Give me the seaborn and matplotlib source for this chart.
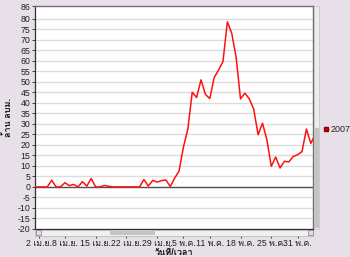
import matplotlib
matplotlib.use("Agg")
import matplotlib.pyplot as plt
from matplotlib.patches import Rectangle
from matplotlib.lines import Line2D
from matplotlib import font_manager
from matplotlib.ft2font import FT2Font
import seaborn as sns
import pandas as pd

# ---- data ----
days = list(range(0, 65))  # day offset from 1 Apr 2007
values = [0, 0, 0, 0, 3.2, 0, 0, 2.0, 0.6, 1.2,
          0, 2.5, 0.4, 4.0, 0, 0, 0.7, 0.3, 0, 0,
          0, 0, 0, 0, 0, 3.5, 0.4, 3.1, 2.3, 3.0,
          3.3, 0.2, 4.2, 7.5, 19.0, 27.5, 45.0, 42.5, 50.9, 44.0,
          42.0, 52.0, 55.6, 59.6, 78.5, 73.0, 61.5, 41.8, 44.6, 41.8,
          37.0, 24.8, 30.3, 22.4, 9.8, 14.2, 9.0, 12.2, 11.9, 14.5,
          15.3, 16.8, 27.5, 20.7, 25.0]
series_name = "2007"
tick_days = [1, 7, 14, 21, 28, 34, 40, 47, 54, 60]
tick_labels = ["2 เม.ย.", "8 เม.ย.", "15 เม.ย.", "22 เม.ย.", "29 เม.ย.",
               "5 พ.ค.", "11 พ.ค.", "18 พ.ค.", "25 พ.ค.", "31 พ.ค."]
y_ticks = [-20, -15, -10, -5, 0, 5, 10, 15, 20, 25, 30, 35, 40, 45,
           50, 55, 60, 65, 70, 75, 80, 86]
y_label = "ล้าน ลบม."
x_label = "วันที่/เวลา"

# ---- fonts: find one with Thai glyphs ----
thai = None
for f in font_manager.fontManager.ttflist:
    try:
        ft = FT2Font(f.fname)
        if 0x0E21 in ft.get_charmap():
            thai = f.name
            break
    except Exception:
        pass

sns.set_theme(style="white")
fams = ["Liberation Sans"] + ([thai] if thai else []) + ["DejaVu Sans"]
plt.rcParams["font.family"] = fams

df = pd.DataFrame({"day": days, "value": values, "series": series_name})

bg = "#e8e0e8"
fig = plt.figure(figsize=(3.5, 2.57), dpi=100, facecolor=bg)
ax = fig.add_axes([35/350, 1-229/257, (313-35)/350, (229-6)/257])
ax.set_facecolor("white")

for yv in y_ticks:
    if yv == 0:
        ax.axhline(0, color="#505050", lw=1.0, zorder=1)
    elif yv != 86:
        ax.axhline(yv, color="#dcdcdc", lw=1.0, zorder=0)

sns.lineplot(data=df, x="day", y="value", ax=ax, color="#ff1010",
             lw=1.1, legend=False, zorder=3)

ax.set_xlim(0.2, 63.5)
ax.set_ylim(-20, 86)
ax.set_yticks(y_ticks)
ax.set_yticklabels([str(v) for v in y_ticks], fontsize=6.3, color="#202020")
ax.set_xticks(tick_days)
ax.set_xticklabels(tick_labels, fontsize=6.3, color="#202020")
ax.tick_params(axis="y", direction="out", length=2.5, width=0.7, pad=0.8,
               color="#404040", left=True)
ax.tick_params(axis="x", direction="out", length=6.5, width=0.7, pad=0.8,
               color="#404040", bottom=True)
ax.set_xlabel(x_label, fontsize=6.5, fontweight="bold", color="#101010")
ax.xaxis.set_label_coords(0.5, -0.105)
ax.xaxis.label.set_va("center")
ax.set_ylabel(y_label, fontsize=6.5, fontweight="bold", color="#101010")
ax.yaxis.set_label_coords(-0.08, 0.5)

for s in ["left", "bottom"]:
    ax.spines[s].set_color("#303030")
    ax.spines[s].set_linewidth(0.9)
for s in ["top", "right"]:
    ax.spines[s].set_color("#707070")
    ax.spines[s].set_linewidth(1.0)

# legend
h = [Line2D([], [], marker="s", ls="none", color="#cc0000",
            markeredgecolor="#800000", markersize=3.5)]
fig.legend(h, [series_name], loc="center left",
           bbox_to_anchor=(321/350, 1-130/257), frameon=False,
           fontsize=6.5, handletextpad=0.1, handlelength=1.0,
           borderaxespad=0, borderpad=0)

# decorative scrollbars
W, H = 350, 257
def rect(x, y, w, h, fc, ec="none", lw=0):
    fig.patches.append(Rectangle((x/W, 1-(y+h)/H), w/W, h/H,
                                 transform=fig.transFigure, facecolor=fc,
                                 edgecolor=ec, linewidth=lw, zorder=5))
rect(35, 229.5, 278, 6, "#f0f0f0", "#b0b0b0", 0.5)
rect(110, 230, 45, 5, "#c4c4c4")
rect(36, 230, 5, 5, "#e0e0e0", "#808080", 0.5)
rect(308, 230, 5, 5, "#e0e0e0", "#808080", 0.5)
rect(314, 6, 5, 223, "#ececec", "#c0c0c0", 0.5)
rect(314, 128, 5, 100, "#c4c4c4")

fig.savefig("out.png", dpi=100, facecolor=bg)
